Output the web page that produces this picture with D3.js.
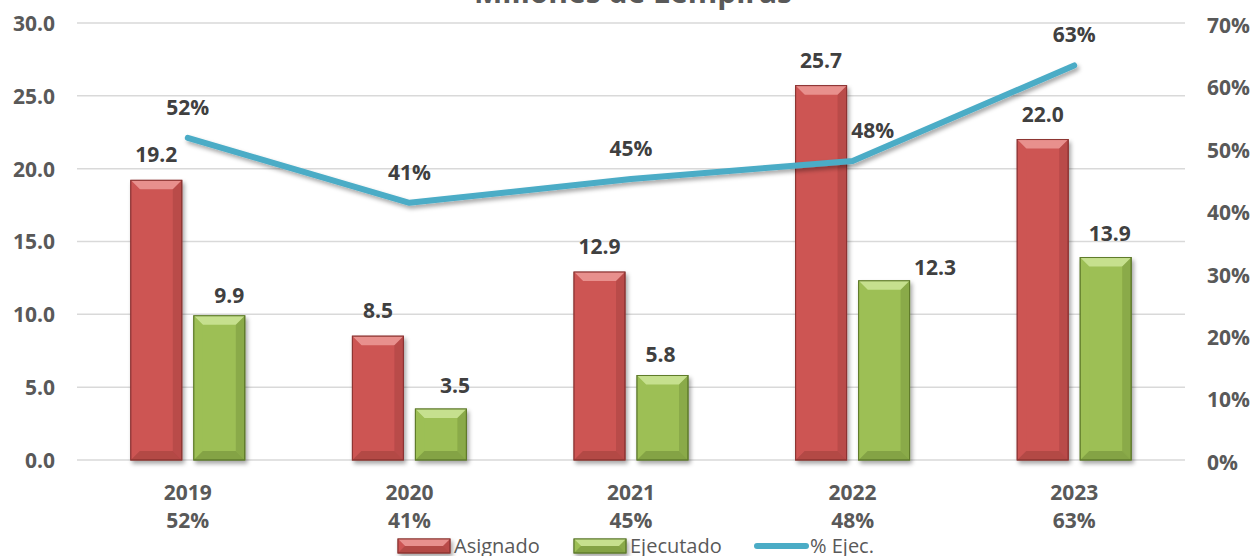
<!DOCTYPE html>
<html>
<head>
    <meta charset="utf-8">
    <title>Millones de Lempiras</title>
    <script type="text/javascript" src="https://cdn.jsdelivr.net/npm/d3@7"></script>
</head>
<body style="margin:0;background:#fff;">

<style>
.grid line { stroke: #d9d9d9; stroke-width: 1.5; }
.tick-label { font-family: "Open Sans", sans-serif; font-weight: bold; font-size: 21px; fill: #595959; }
.val-label { font-family: "Open Sans", sans-serif; font-weight: bold; font-size: 21px; fill: #404040; }
.legend-text { font-family: "Open Sans", sans-serif; font-size: 20px; fill: #595959; }
</style>

<script type="text/javascript">
    var years = ["2019", "2020", "2021", "2022", "2023"];
    var asignado = [19.2, 8.5, 12.9, 25.7, 22.0];
    var ejecutado = [9.9, 3.5, 5.8, 12.3, 13.9];
    var pctEjec = [0.516, 0.412, 0.450, 0.479, 0.632];
    var leftTicks = [0, 5, 10, 15, 20, 25, 30];
    var rightTicks = [0, 0.1, 0.2, 0.3, 0.4, 0.5, 0.6, 0.7];

    var width = 1260,
        height = 556,
        plotLeft = 77,
        plotRight = 1185,
        plotTop = 23,
        plotBottom = 460;

    var x = d3.scaleBand().domain(years).range([plotLeft, plotRight]);
    var y = d3.scaleLinear().domain([0, 30]).range([plotBottom, plotTop]);
    var y2 = d3.scaleLinear().domain([0, 0.7]).range([plotBottom, plotTop]);

    var barW = 51, barOff = 31.5;
    // labels of the green bars were moved by hand in the original
    var ejDx = [10, 14, -2, 51, 4],
        ejDy = [13, 16, 14, 6, 17];
    var pctDx = [0, 0, 0, 20, 0];

    var svg = d3.select("body").append("svg")
        .attr("width", width)
        .attr("height", height);

    var defs = svg.append("defs");
    var sh = defs.append("filter").attr("id", "shadow")
        .attr("x", "-20%").attr("y", "-20%").attr("width", "150%").attr("height", "150%");
    sh.append("feDropShadow").attr("dx", 2).attr("dy", 3).attr("stdDeviation", 2)
        .attr("flood-color", "#000").attr("flood-opacity", 0.35);

    // title, mostly cut off at the top
    svg.append("text")
        .attr("x", 633).attr("y", 3)
        .attr("text-anchor", "middle")
        .style("font-family", "'Open Sans', sans-serif")
        .style("font-weight", "bold")
        .style("font-size", "30px")
        .style("fill", "#595959")
        .text("Millones de Lempiras");

    // gridlines
    svg.append("g").attr("class", "grid")
        .selectAll("line").data(leftTicks).enter().append("line")
        .attr("x1", plotLeft).attr("x2", plotRight)
        .attr("y1", function(d){ return y(d); })
        .attr("y2", function(d){ return y(d); });

    // left axis
    var yAxis = d3.axisLeft(y).tickValues(leftTicks)
        .tickFormat(d3.format(".1f")).tickSize(0).tickPadding(22);
    var gl = svg.append("g").attr("transform", "translate(" + plotLeft + ",0)").call(yAxis);
    gl.select(".domain").remove();
    gl.selectAll("text").attr("class", "tick-label").attr("dy", "0.35em");

    // right axis
    var y2Axis = d3.axisRight(y2).tickValues(rightTicks)
        .tickFormat(d3.format(".0%")).tickSize(0).tickPadding(22);
    var gr = svg.append("g").attr("transform", "translate(" + plotRight + ",2)").call(y2Axis);
    gr.select(".domain").remove();
    gr.selectAll("text").attr("class", "tick-label").attr("dy", "0.35em");

    // x labels
    var xl = svg.append("g").selectAll("text").data(years).enter().append("text")
        .attr("class", "tick-label")
        .attr("text-anchor", "middle")
        .attr("x", function(d){ return x(d) + x.bandwidth() / 2; })
        .attr("y", 500);
    xl.append("tspan").text(function(d){ return d; });
    xl.append("tspan")
        .attr("x", function(d){ return x(d) + x.bandwidth() / 2; })
        .attr("dy", 28)
        .text(function(d, i){ return d3.format(".0%")(pctEjec[i]); });

    // bevelled bar
    function bevelBar(g, bx, by, w, h, base, light, dark) {
        var b = Math.min(9, h / 2);
        var grp = g.append("g").attr("filter", "url(#shadow)");
        grp.append("rect").attr("x", bx).attr("y", by).attr("width", w).attr("height", h)
            .attr("fill", base).attr("stroke", dark).attr("stroke-width", 1);
        grp.append("polygon").attr("points", [
            [bx, by], [bx + w, by], [bx + w - b, by + b], [bx + b, by + b]
        ].join(" ")).attr("fill", light);
        grp.append("polygon").attr("points", [
            [bx, by], [bx + b, by + b], [bx + b, by + h - b], [bx, by + h]
        ].join(" ")).attr("fill", base).attr("opacity", 0.6);
        grp.append("polygon").attr("points", [
            [bx + w, by], [bx + w - b, by + b], [bx + w - b, by + h - b], [bx + w, by + h]
        ].join(" ")).attr("fill", dark).attr("opacity", 0.3);
        grp.append("polygon").attr("points", [
            [bx, by + h], [bx + b, by + h - b], [bx + w - b, by + h - b], [bx + w, by + h]
        ].join(" ")).attr("fill", dark).attr("opacity", 0.4);
        grp.append("rect").attr("x", bx).attr("y", by).attr("width", w).attr("height", h)
            .attr("fill", "none").attr("stroke", dark).attr("stroke-width", 1);
    }

    var bars = svg.append("g");
    years.forEach(function(yr, i){
        var c = x(yr) + x.bandwidth() / 2;
        bevelBar(bars, c - barOff - barW / 2, y(asignado[i]), barW, plotBottom - y(asignado[i]),
            "#cd5553", "#e8908d", "#8c3432");
        bevelBar(bars, c + barOff - barW / 2, y(ejecutado[i]), barW, plotBottom - y(ejecutado[i]),
            "#9dbf55", "#c6e08e", "#5f7a2c");
    });

    // value labels
    var lab = svg.append("g");
    years.forEach(function(yr, i){
        var c = x(yr) + x.bandwidth() / 2;
        lab.append("text").attr("class", "val-label").attr("text-anchor", "middle")
            .attr("x", c - barOff).attr("y", y(asignado[i]) - 18)
            .text(d3.format(".1f")(asignado[i]));
        lab.append("text").attr("class", "val-label").attr("text-anchor", "middle")
            .attr("x", c + barOff + ejDx[i]).attr("y", y(ejecutado[i]) - ejDy[i])
            .text(d3.format(".1f")(ejecutado[i]));
    });

    // % line
    var line = d3.line()
        .x(function(d, i){ return x(years[i]) + x.bandwidth() / 2; })
        .y(function(d){ return y2(d); });
    svg.append("path")
        .datum(pctEjec)
        .attr("d", line)
        .attr("fill", "none")
        .attr("stroke", "#4bacc6")
        .attr("stroke-width", 6)
        .attr("stroke-linecap", "round")
        .attr("stroke-linejoin", "round")
        .attr("filter", "url(#shadow)");

    svg.append("g").selectAll("text").data(pctEjec).enter().append("text")
        .attr("class", "val-label").attr("text-anchor", "middle")
        .attr("x", function(d, i){ return x(years[i]) + x.bandwidth() / 2 + pctDx[i]; })
        .attr("y", function(d){ return y2(d) - 23; })
        .text(function(d){ return d3.format(".0%")(d); });

    // legend
    var lg = svg.append("g").attr("transform", "translate(0,546)");
    bevelBar(lg, 398, -7, 52, 14, "#cd5553", "#e8908d", "#8c3432");
    lg.append("text").attr("class", "legend-text").attr("x", 454).attr("y", 7).text("Asignado");
    bevelBar(lg, 574, -7, 52, 14, "#9dbf55", "#c6e08e", "#5f7a2c");
    lg.append("text").attr("class", "legend-text").attr("x", 630).attr("y", 7).text("Ejecutado");
    lg.append("line").attr("x1", 757).attr("x2", 806).attr("y1", 0).attr("y2", 0)
        .attr("stroke", "#4bacc6").attr("stroke-width", 6).attr("stroke-linecap", "round");
    lg.append("text").attr("class", "legend-text").attr("x", 810).attr("y", 7).text("% Ejec.");
</script>

</body>
</html>
